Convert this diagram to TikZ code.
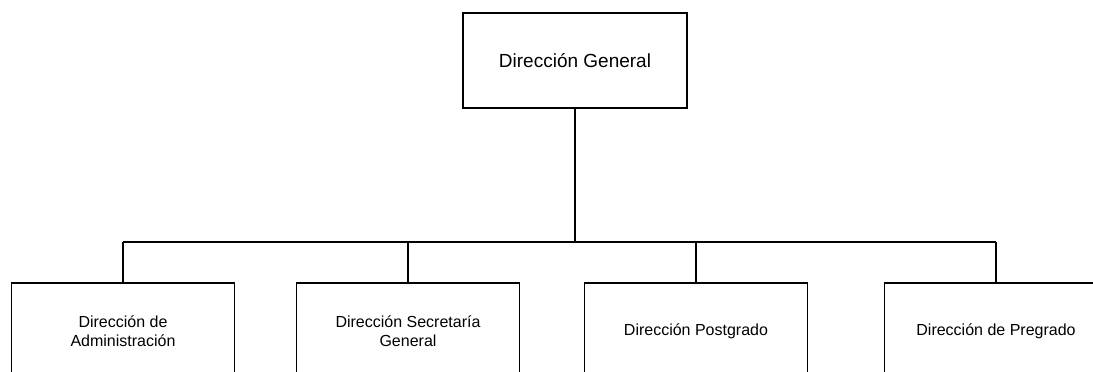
\documentclass[tikz,border=0pt]{standalone}
\usepackage{fontspec}
\setmainfont{Liberation Sans}
\begin{document}
\begin{tikzpicture}[x=1pt,y=-1pt,
  box/.style={draw,line width=1.3pt,minimum width=223pt,minimum height=96pt,inner sep=0pt,align=center,font=\fontsize{16}{19}\selectfont},
  topbox/.style={box,minimum width=224pt,minimum height=95pt,font=\fontsize{19}{22}\selectfont},
  link/.style={line width=1.3pt}]
\useasboundingbox (0,0) rectangle (1093,372);
\clip (0,0) rectangle (1093,372);
\node[topbox] (dg) at (575,60.5) {Dirección General};
\node[box] (da) at (123,331) {Dirección de\\Administración};
\node[box] (ds) at (408,331) {Dirección Secretaría\\General};
\node[box] (dp) at (696,331) {Dirección Postgrado};
\node[box] (dpr) at (996,331) {Dirección de Pregrado};
\coordinate (bus) at (575,242);
\coordinate (ja) at (da.north |- bus);
\coordinate (jd) at (dpr.north |- bus);
\draw[link] (dg.south) -- (bus);
\draw[link] (ja) -- (jd);
\draw[link] (ja) -- (da.north);
\draw[link] (ds.north |- bus) -- (ds.north);
\draw[link] (dp.north |- bus) -- (dp.north);
\draw[link] (jd) -- (dpr.north);
\end{tikzpicture}
\end{document}
